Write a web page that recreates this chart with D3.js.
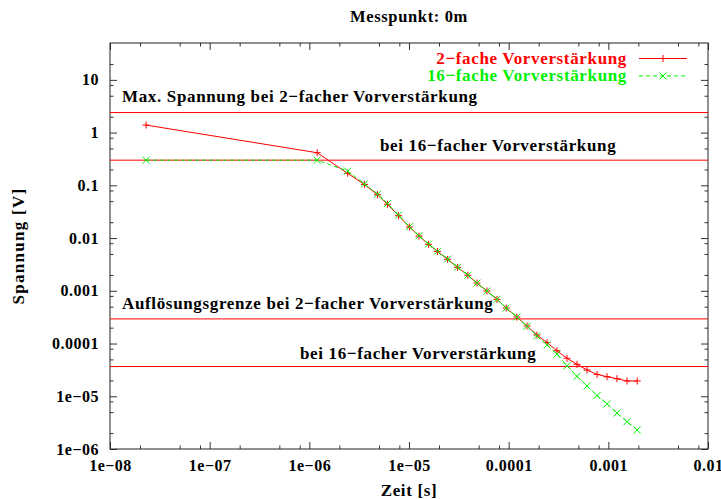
<!DOCTYPE html>
<html>
<head>
<meta charset="utf-8">
<script src="https://cdn.jsdelivr.net/npm/d3@7"></script>
<style>
  html, body { margin: 0; padding: 0; background: #fff; }
  svg { display: block; }
  text { font-family: "Liberation Serif", "Times New Roman", serif; font-weight: bold; }
</style>
</head>
<body>
<svg id="chart" width="721" height="499"></svg>
<script>
// Measurement times [s]
const zeit = [2.3e-8, 1.2e-6, 2.42e-6, 3.57e-6, 4.83e-6, 6.08e-6, 7.85e-6, 1.01e-5,
  1.26e-5, 1.57e-5, 1.93e-5, 2.44e-5, 3.07e-5, 3.89e-5, 4.81e-5, 6.05e-5, 7.64e-5,
  9.46e-5, 1.21e-4, 1.53e-4, 1.92e-4, 2.43e-4, 3.05e-4, 3.85e-4, 4.85e-4, 6.11e-4,
  7.71e-4, 9.7e-4, 1.22e-3, 1.54e-3, 1.95e-3];

// Voltage with 2x pre-amplification [V]
const spannung2 = [1.39, 0.415, 0.169, 0.104, 0.0664, 0.0437, 0.0266, 0.0162,
  0.0109, 0.0076, 0.00556, 0.00395, 0.00279, 0.00197, 0.0014, 0.00099, 0.000689,
  0.000471, 0.000318, 0.000215, 0.000145, 1.04e-4, 7.3e-5, 5.25e-5, 4.04e-5,
  3.15e-5, 2.6e-5, 2.35e-5, 2.15e-5, 1.95e-5, 1.95e-5];

// Voltage with 16x pre-amplification [V]
const spannung16 = [0.3, 0.3, 0.186, 0.106, 0.068, 0.045, 0.0272, 0.0165,
  0.0111, 0.0077, 0.0056, 0.004, 0.0028, 0.00198, 0.0014, 0.00099, 0.00069,
  0.000471, 0.000318, 0.000213, 0.00014, 9.4e-5, 6.3e-5, 3.79e-5, 2.39e-5,
  1.57e-5, 1.03e-5, 7.2e-6, 4.8e-6, 3.3e-6, 2.29e-6];

// Reference levels: max. voltage and resolution limit per amplification
const grenzWerte = [2.4, 0.3, 2.93e-4, 3.66e-5];
const grenzTexte = [
  "Max. Spannung bei 2\u2212facher Vorverstärkung",
  "bei 16\u2212facher Vorverstärkung",
  "Auflösungsgrenze bei 2\u2212facher Vorverstärkung",
  "bei 16\u2212facher Vorverstärkung"
];

// Axis ticks and labels
const xTicks = [1e-8, 1e-7, 1e-6, 1e-5, 1e-4, 1e-3, 1e-2];
const xTickLabels = ["1e\u221208", "1e\u221207", "1e\u221206", "1e\u221205", "0.0001", "0.001", "0.01"];
const yTicks = [1e-6, 1e-5, 1e-4, 1e-3, 1e-2, 1e-1, 1, 10];
const yTickLabels = ["1e\u221206", "1e\u221205", "0.0001", "0.001", "0.01", "0.1", "1", "10"];
const minorMantissas = [2, 5, 8];

const serien = [
  { name: "2\u2212fache Vorverstärkung", values: spannung2, color: "#ff0000", dash: null, marker: "plus" },
  { name: "16\u2212fache Vorverstärkung", values: spannung16, color: "#00f000", dash: "4,3", marker: "cross" }
];

const svg = d3.select("#chart");
const plotL = 110, plotR = 708, plotT = 43, plotB = 449;

const x = d3.scaleLog().domain([1e-8, 1e-2]).range([plotL, plotR]);
const y = d3.scaleLog().domain([1e-6, 50]).range([plotB, plotT]);

function minorTicks(scale, majors) {
  const [lo, hi] = scale.domain();
  const out = [];
  majors.concat([majors[majors.length - 1] * 10]).forEach(m => {
    minorMantissas.forEach(k => {
      const v = m * k;
      if (v > lo * 1.0001 && v < hi * 0.9999) out.push(v);
    });
  });
  return out;
}

const xMinor = minorTicks(x, xTicks);
const yMinor = minorTicks(y, yTicks);

// Axes: ticks point inward on all four sides
const axisG = svg.append("g").attr("class", "axes");
function addAxis(gen, tr, vals, size, labels) {
  const a = gen.tickValues(vals).tickSize(size).tickSizeOuter(0);
  if (labels) a.tickFormat((d, i) => labels[i]).tickPadding(11);
  else a.tickFormat("");
  const g = axisG.append("g").attr("transform", tr).call(a);
  g.select(".domain").remove();
  g.selectAll("line").attr("stroke", "#333");
  g.selectAll("text").attr("fill", "#000").style("font-size", "16px")
    .style("letter-spacing", "0.5px")
    .style("font-family", "'Liberation Serif', serif").style("font-weight", "bold");
  return g;
}
addAxis(d3.axisBottom(x), `translate(0,${plotB})`, xTicks, -7, xTickLabels);
addAxis(d3.axisBottom(x), `translate(0,${plotB})`, xMinor, -3.5, null);
addAxis(d3.axisTop(x), `translate(0,${plotT})`, xTicks, -7, null);
addAxis(d3.axisTop(x), `translate(0,${plotT})`, xMinor, -3.5, null);
addAxis(d3.axisLeft(y), `translate(${plotL},0)`, yTicks, -7, yTickLabels);
addAxis(d3.axisLeft(y), `translate(${plotL},0)`, yMinor, -3.5, null);
addAxis(d3.axisRight(y), `translate(${plotR},0)`, yTicks, -7, null);
addAxis(d3.axisRight(y), `translate(${plotR},0)`, yMinor, -3.5, null);

// Plot border
svg.append("rect")
  .attr("x", plotL).attr("y", plotT)
  .attr("width", plotR - plotL).attr("height", plotB - plotT)
  .attr("fill", "none").attr("stroke", "#222").attr("stroke-width", 1);

// Reference levels with their captions
const grenzLabelPos = [
  { x: 122, dy: -10.5 },
  { x: 380, dy: -9 },
  { x: 122, dy: -9.5 },
  { x: 300, dy: -8 }
];
svg.append("g").selectAll("line").data(grenzWerte).join("line")
  .attr("x1", plotL).attr("x2", plotR)
  .attr("y1", d => y(d)).attr("y2", d => y(d))
  .attr("stroke", "#ff0000").attr("stroke-width", 1);
svg.append("g").selectAll("text").data(grenzWerte).join("text")
  .attr("x", (d, i) => grenzLabelPos[i].x)
  .attr("y", (d, i) => y(d) + grenzLabelPos[i].dy)
  .attr("fill", "#000").style("font-size", "17px").style("letter-spacing", "0.65px")
  .text((d, i) => grenzTexte[i]);

// Data series
const markerPath = {
  plus: "M-3.5,0H3.5M0,-3.5V3.5",
  cross: "M-3.5,-3.5L3.5,3.5M-3.5,3.5L3.5,-3.5"
};
const line = d3.line().x(d => x(d[0])).y(d => y(d[1]));
serien.forEach(s => {
  const pts = zeit.map((t, i) => [t, s.values[i]]);
  svg.append("path").datum(pts)
    .attr("d", line).attr("fill", "none")
    .attr("stroke", s.color).attr("stroke-width", 1)
    .attr("stroke-dasharray", s.dash);
  svg.append("g").selectAll("path").data(pts).join("path")
    .attr("transform", d => `translate(${x(d[0])},${y(d[1])})`)
    .attr("d", markerPath[s.marker])
    .attr("stroke", s.color).attr("stroke-width", 1).attr("fill", "none");
});

// Legend
const legend = svg.append("g");
serien.forEach((s, i) => {
  const ly = 58.5 + i * 17.4;
  legend.append("text").attr("x", 627).attr("y", ly + 5.5)
    .attr("text-anchor", "end").attr("fill", s.color)
    .style("font-size", "17px").style("letter-spacing", "0.65px")
    .text(s.name);
  legend.append("line").attr("x1", 639).attr("x2", 687).attr("y1", ly).attr("y2", ly)
    .attr("stroke", s.color).attr("stroke-dasharray", s.dash);
  legend.append("path").attr("transform", `translate(663,${ly})`)
    .attr("d", markerPath[s.marker]).attr("stroke", s.color).attr("fill", "none");
});

// Title and axis titles
svg.append("text").attr("x", 409).attr("y", 22).attr("text-anchor", "middle")
  .style("font-size", "16.5px").style("letter-spacing", "0.65px").text("Messpunkt: 0m");
svg.append("text").attr("x", 409).attr("y", 496).attr("text-anchor", "middle")
  .style("font-size", "17px").style("letter-spacing", "0.65px").text("Zeit [s]");
svg.append("text").attr("transform", "translate(24,246) rotate(-90)")
  .attr("text-anchor", "middle").style("font-size", "17px").style("letter-spacing", "1.3px")
  .text("Spannung [V]");
</script>
</body>
</html>
